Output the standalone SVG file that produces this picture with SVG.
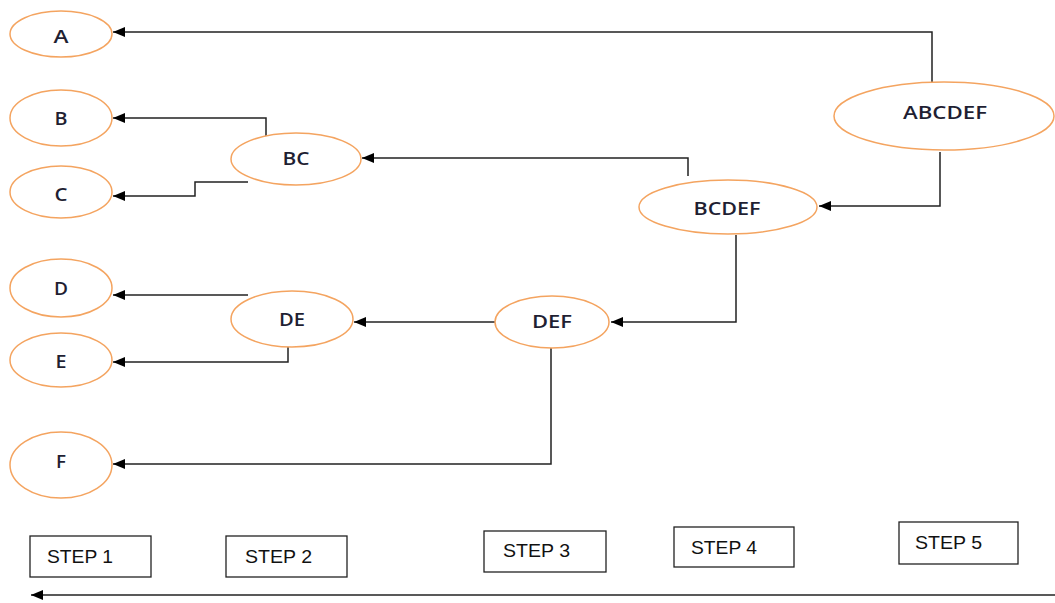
<svg xmlns="http://www.w3.org/2000/svg" width="1055" height="603" viewBox="0 0 1055 603">
<style>
.node ellipse{fill:#fff;stroke:#f4a460;stroke-width:1.5}
.node text{font-family:"Open Sans","Liberation Sans",sans-serif;font-size:18.5px;font-weight:600;fill:#1f1f33;text-anchor:middle;dominant-baseline:central}
.step rect{fill:#fff;stroke:#222;stroke-width:1.3}
.step text{font-family:"Liberation Sans",sans-serif;font-size:18px;fill:#111}
.conn path{fill:none;stroke:#222;stroke-width:1.5}
</style>
<defs>
<marker id="ah" viewBox="0 0 12 10" refX="12" refY="5" markerWidth="12" markerHeight="10" markerUnits="userSpaceOnUse" orient="auto">
<path d="M0,0 L12,5 L0,10 z" fill="#000"/>
</marker>
</defs>
<rect width="1055" height="603" fill="#fff"/>
<g class="conn" id="connectors">
<path d="M932,82 V32 H113" marker-end="url(#ah)"/>
<path d="M266,136 V118 H113" marker-end="url(#ah)"/>
<path d="M248,182 H195 V196 H113" marker-end="url(#ah)"/>
<path d="M688,176 V158 H362" marker-end="url(#ah)"/>
<path d="M940,152 V206 H819" marker-end="url(#ah)"/>
<path d="M736,235 V322 H611" marker-end="url(#ah)"/>
<path d="M495,322 H354" marker-end="url(#ah)"/>
<path d="M248,295 H113" marker-end="url(#ah)"/>
<path d="M288,347 V362 H113" marker-end="url(#ah)"/>
<path d="M551,348 V464 H113" marker-end="url(#ah)"/>
<path d="M1055,595 H31" marker-end="url(#ah)"/>
</g>
<g class="node" id="A"><ellipse cx="61" cy="34" rx="51" ry="23"/><text x="61" y="35" textLength="15" lengthAdjust="spacingAndGlyphs">A</text></g>
<g class="node" id="B"><ellipse cx="61" cy="118" rx="51" ry="28"/><text x="61" y="117" textLength="13" lengthAdjust="spacingAndGlyphs">B</text></g>
<g class="node" id="C"><ellipse cx="61" cy="192" rx="51" ry="26"/><text x="61" y="193" textLength="13" lengthAdjust="spacingAndGlyphs">C</text></g>
<g class="node" id="D"><ellipse cx="61" cy="288" rx="51" ry="29"/><text x="61" y="287" textLength="14" lengthAdjust="spacingAndGlyphs">D</text></g>
<g class="node" id="E"><ellipse cx="61" cy="360" rx="51" ry="27"/><text x="61" y="360" textLength="11" lengthAdjust="spacingAndGlyphs">E</text></g>
<g class="node" id="F"><ellipse cx="61" cy="465" rx="51" ry="33"/><text x="61" y="460" textLength="10" lengthAdjust="spacingAndGlyphs">F</text></g>
<g class="node" id="BC"><ellipse cx="296" cy="159" rx="65" ry="26"/><text x="296" y="157" textLength="27" lengthAdjust="spacingAndGlyphs">BC</text></g>
<g class="node" id="DE"><ellipse cx="292" cy="319" rx="61" ry="28"/><text x="292" y="318" textLength="26" lengthAdjust="spacingAndGlyphs">DE</text></g>
<g class="node" id="DEF"><ellipse cx="552" cy="322" rx="57" ry="26"/><text x="552" y="320" textLength="40" lengthAdjust="spacingAndGlyphs">DEF</text></g>
<g class="node" id="BCDEF"><ellipse cx="728" cy="207" rx="89" ry="27"/><text x="727" y="207" textLength="67" lengthAdjust="spacingAndGlyphs">BCDEF</text></g>
<g class="node" id="ABCDEF"><ellipse cx="944" cy="116" rx="110" ry="34"/><text x="945" y="111" textLength="84" lengthAdjust="spacingAndGlyphs">ABCDEF</text></g>
<g class="step" id="step1"><rect x="30" y="536" width="121" height="41"/><text x="47" y="563" textLength="66" lengthAdjust="spacingAndGlyphs">STEP 1</text></g>
<g class="step" id="step2"><rect x="226" y="536" width="121" height="41"/><text x="245" y="563" textLength="67" lengthAdjust="spacingAndGlyphs">STEP 2</text></g>
<g class="step" id="step3"><rect x="484" y="531" width="122" height="41"/><text x="503" y="557" textLength="67" lengthAdjust="spacingAndGlyphs">STEP 3</text></g>
<g class="step" id="step4"><rect x="674" y="527" width="120" height="40"/><text x="691" y="554" textLength="66" lengthAdjust="spacingAndGlyphs">STEP 4</text></g>
<g class="step" id="step5"><rect x="899" y="522" width="119" height="42"/><text x="915" y="549" textLength="67" lengthAdjust="spacingAndGlyphs">STEP 5</text></g>
</svg>
